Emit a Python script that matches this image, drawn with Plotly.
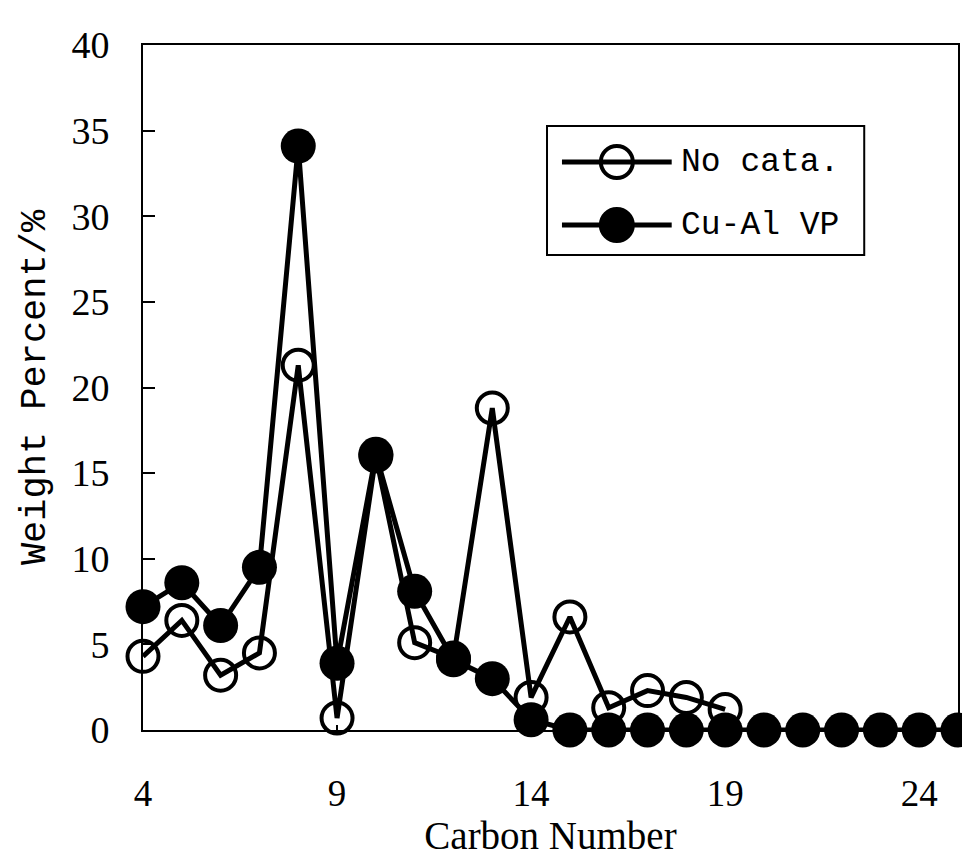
import plotly.graph_objects as go

# Carbon number distribution of the liquid product
carbon_no_cata = [4, 5, 6, 7, 8, 9, 10, 11, 12, 13, 14, 15, 16, 17, 18, 19]
weight_no_cata = [4.3, 6.4, 3.2, 4.5, 21.3, 0.7, 16.0, 5.1, 4.2, 18.8, 1.9, 6.6, 1.3, 2.3, 1.9, 1.2]

carbon_cual = [4, 5, 6, 7, 8, 9, 10, 11, 12, 13, 14, 15, 16, 17, 18, 19, 20, 21, 22, 23, 24, 25]
weight_cual = [7.2, 8.6, 6.1, 9.5, 34.1, 3.9, 16.1, 8.1, 4.1, 3.0, 0.6,
               0, 0, 0, 0, 0, 0, 0, 0, 0, 0, 0]

series_names = ["No cata.", "Cu-Al VP"]
x_ticks = [4, 9, 14, 19, 24]
y_ticks = [0, 5, 10, 15, 20, 25, 30, 35, 40]

W, H = 962, 858
L, R, T, B = 143, 2, 45, 128
PW, PH = W - L - R, H - T - B


def px(x):
    return (x - L) / PW


def py(y):
    return (H - B - y) / PH


fig = go.Figure()
fig.add_trace(go.Scatter(
    x=carbon_no_cata, y=weight_no_cata, name=series_names[0], mode="lines+markers",
    line=dict(color="black", width=5),
    marker=dict(symbol="circle-open", size=31, color="black", line=dict(width=4)),
    cliponaxis=False,
))
fig.add_trace(go.Scatter(
    x=carbon_cual, y=weight_cual, name=series_names[1], mode="lines+markers",
    line=dict(color="black", width=5),
    marker=dict(symbol="circle", size=35, color="black"),
    cliponaxis=False,
))

# Boxed legend with long sample lines
shapes = [dict(type="rect", xref="paper", yref="paper",
               x0=px(548), x1=px(866), y0=py(255), y1=py(126),
               line=dict(color="black", width=2), fillcolor="white", layer="above")]
annotations = []
rows = [(162, False), (225, True)]
for name, (yy, filled) in zip(series_names, rows):
    shapes.append(dict(type="line", xref="paper", yref="paper",
                       x0=px(563), x1=px(673), y0=py(yy), y1=py(yy),
                       line=dict(color="black", width=5), layer="above"))
    shapes.append(dict(type="circle", xref="paper", yref="paper",
                       xsizemode="pixel", ysizemode="pixel",
                       xanchor=px(618), yanchor=py(yy),
                       x0=-16, x1=16, y0=-16, y1=16,
                       line=dict(color="black", width=4),
                       fillcolor="black" if filled else "rgba(0,0,0,0)",
                       layer="above"))
    annotations.append(dict(x=px(680), y=py(yy), xref="paper", yref="paper",
                            text=name, showarrow=False, xanchor="left", yanchor="middle",
                            font=dict(family="Liberation Mono", size=33, color="black")))

fig.update_layout(
    width=W, height=H,
    margin=dict(l=L, r=R, t=T, b=B),
    paper_bgcolor="white", plot_bgcolor="white",
    showlegend=False,
    shapes=shapes,
    annotations=annotations,
    font=dict(family="Liberation Serif", color="black"),
)
fig.update_xaxes(
    range=[4, 25], tickvals=x_ticks, ticktext=[str(v) for v in x_ticks],
    showgrid=False, zeroline=False,
    showline=True, linecolor="black", linewidth=2, mirror=True,
    ticks="inside", ticklen=5, tickwidth=1.5, tickcolor="black",
    tickfont=dict(family="Liberation Serif", size=37),
    ticklabelstandoff=30,
    title=dict(text="Carbon Number", font=dict(family="Liberation Serif", size=39), standoff=6),
)
fig.update_yaxes(
    range=[0, 40], tickvals=y_ticks, ticktext=[str(v) for v in y_ticks],
    showgrid=False, zeroline=False,
    showline=True, linecolor="black", linewidth=2, mirror=True,
    ticks="inside", ticklen=12, tickwidth=2, tickcolor="black",
    tickfont=dict(family="Liberation Serif", size=38),
    ticklabelstandoff=24,
    title=dict(text="Weight Percent/%", font=dict(family="Liberation Mono", size=37), standoff=14),
)

fig.write_html("out.html")
